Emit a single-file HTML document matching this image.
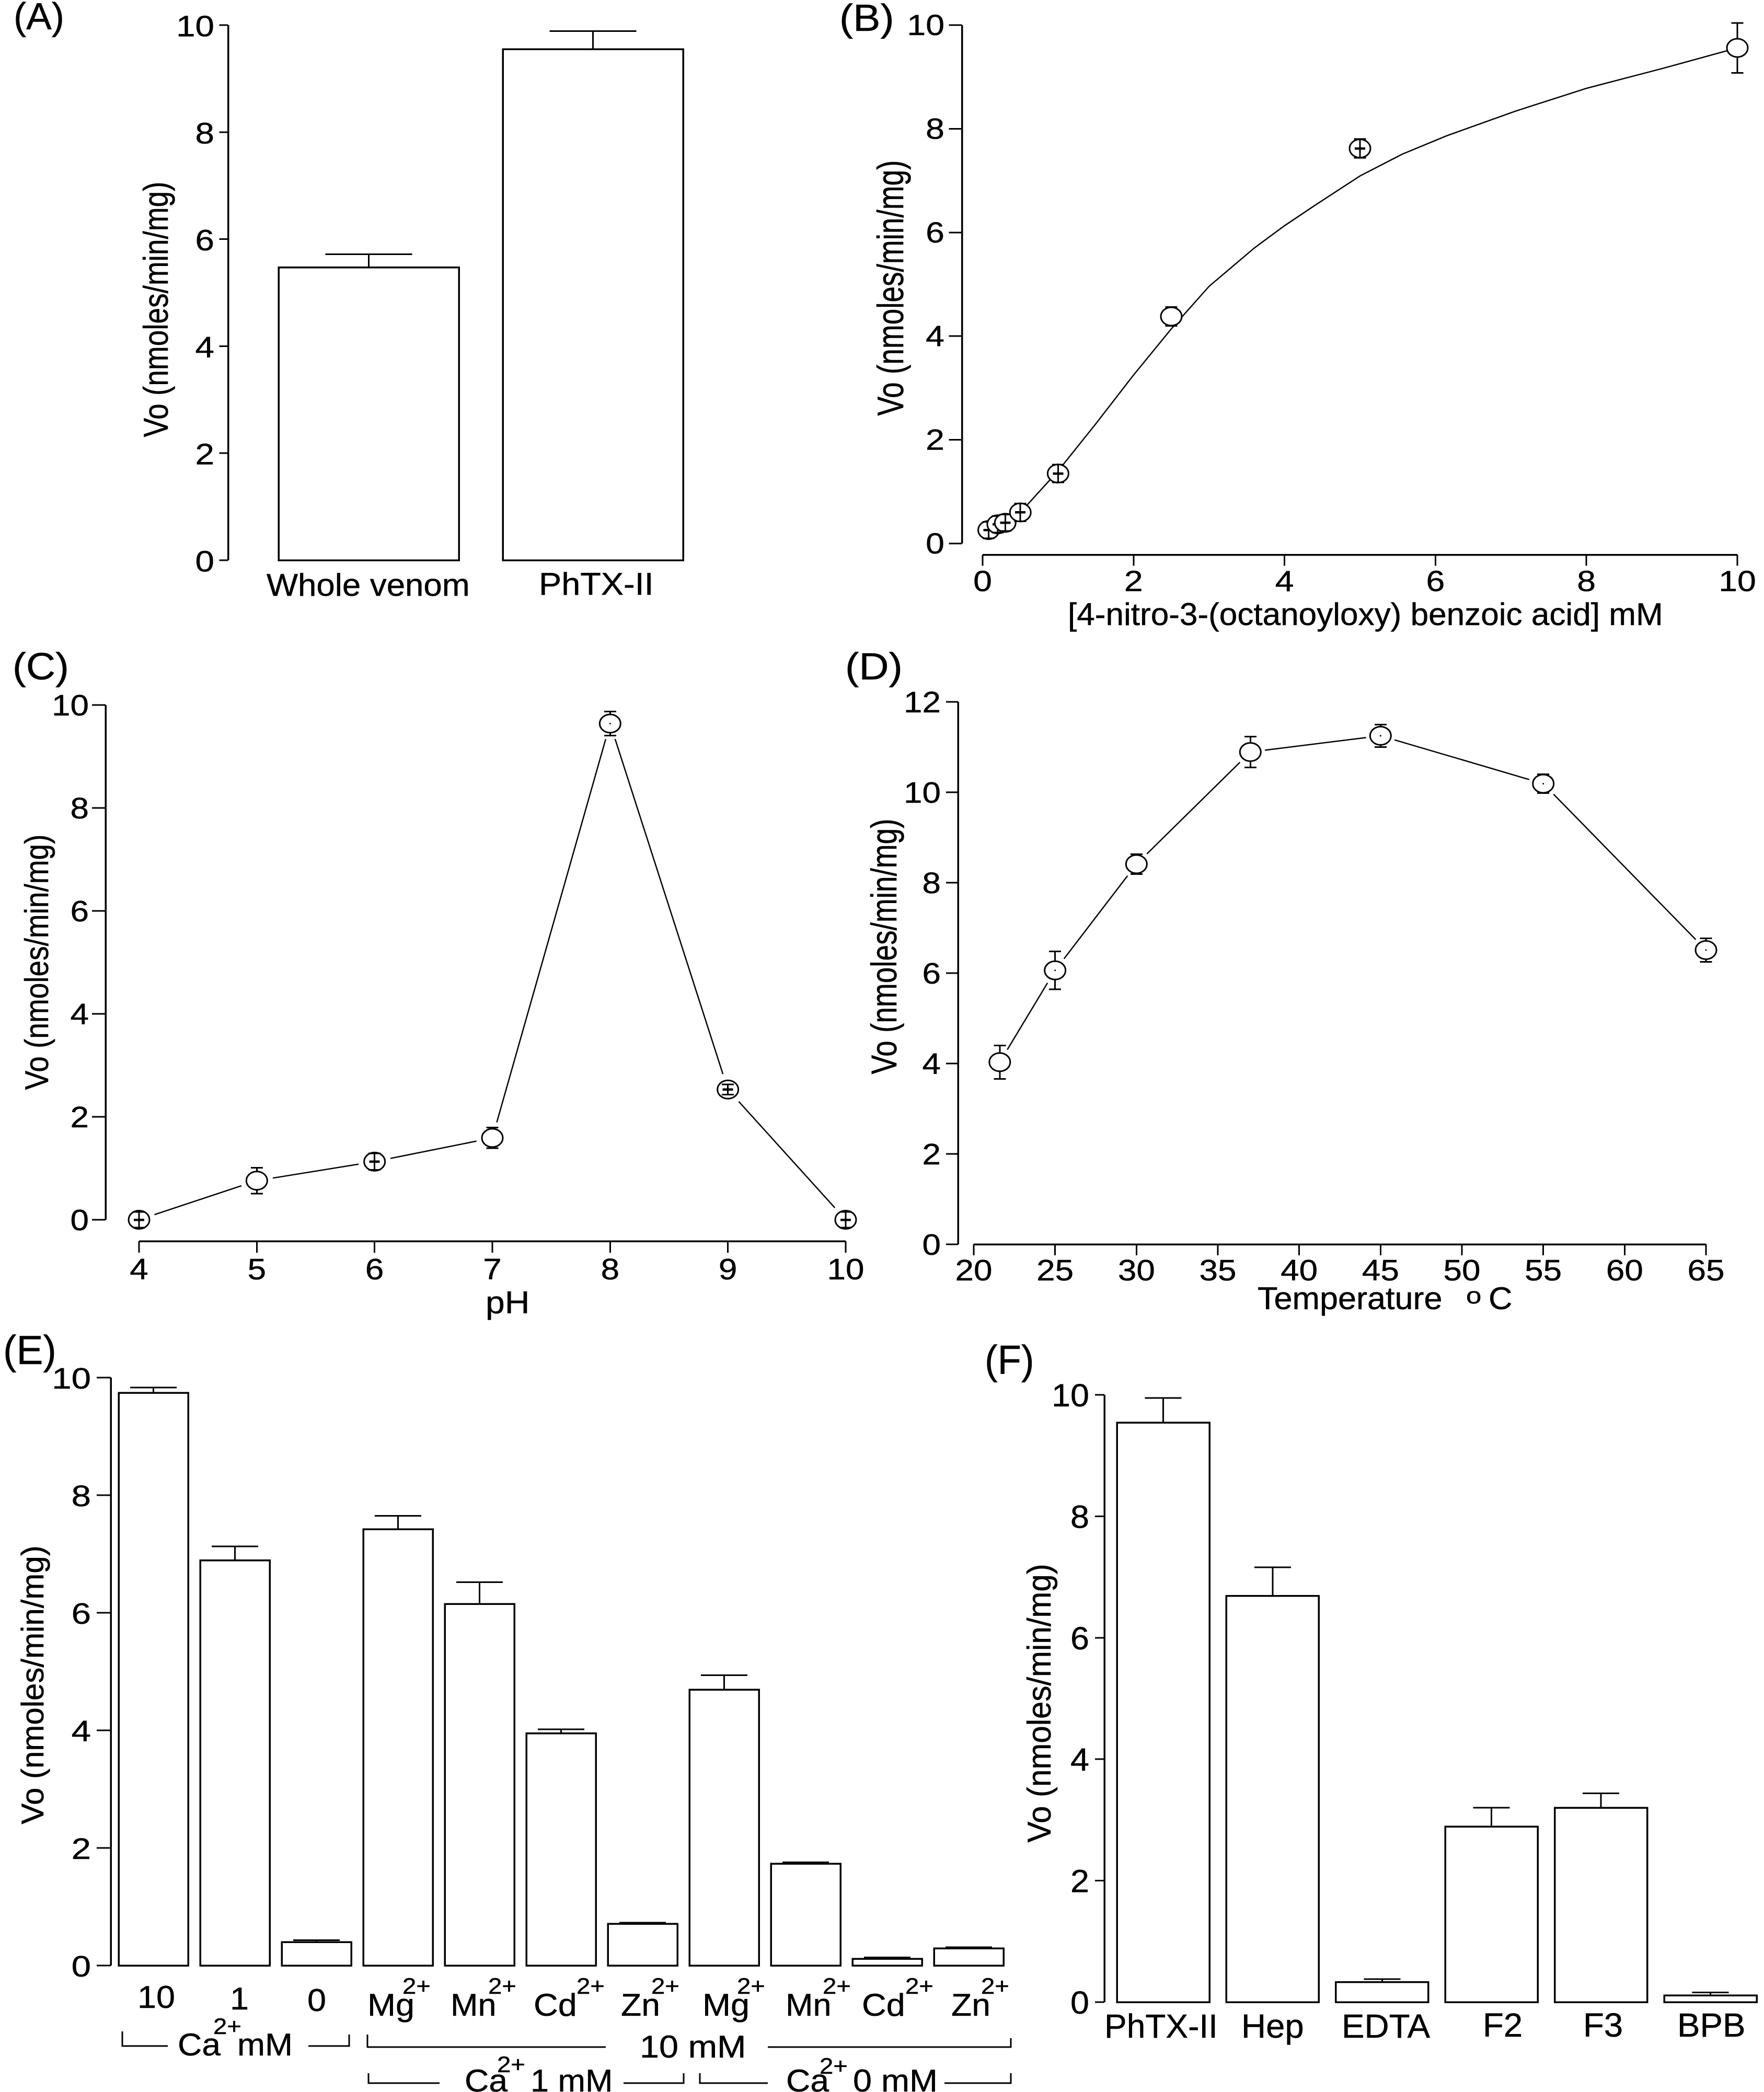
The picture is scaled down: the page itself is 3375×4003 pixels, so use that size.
<!DOCTYPE html>
<html lang="en">
<head>
<meta charset="utf-8">
<title>Enzyme activity panels A-F</title>
<style>
html,body{margin:0;padding:0;background:#fff;}
svg{display:block;}
text{font-family:"Liberation Sans",sans-serif;fill:#000;stroke:#000;stroke-width:0.5px;}
</style>
</head>
<body>
<svg id="figure" xmlns="http://www.w3.org/2000/svg" width="3375" height="4003" viewBox="0 0 3375 4003">
<rect x="0" y="0" width="3375" height="4003" fill="#fff"/>

<text font-size="72" transform="translate(26,56) scale(1.01,1)">(A)</text>
<text font-size="72" transform="translate(1606,59) scale(1.09,1)">(B)</text>
<text font-size="72" transform="translate(24,1300) scale(1.08,1)">(C)</text>
<text font-size="72" transform="translate(1617,1300) scale(1.1,1)">(D)</text>
<text font-size="78" transform="translate(6,2610) scale(0.98,1)">(E)</text>
<text font-size="78" transform="translate(1884,2629) scale(0.95,1)">(F)</text>

<text font-size="55" text-anchor="middle" transform="translate(321,592) rotate(-90) scale(1,1.2)">Vo (nmoles/min/mg)</text>
<text font-size="55" text-anchor="middle" transform="translate(1728,551) rotate(-90) scale(1,1.28)">Vo (nmoles/min/mg)</text>
<text font-size="55" text-anchor="middle" transform="translate(92,1841) rotate(-90) scale(1,1.15)">Vo (nmoles/min/mg)</text>
<text font-size="55" text-anchor="middle" transform="translate(1715,1811) rotate(-90) scale(1,1.25)">Vo (nmoles/min/mg)</text>
<text font-size="60" text-anchor="middle" transform="translate(83,3224) rotate(-90)">Vo (nmoles/min/mg)</text>
<text font-size="60" text-anchor="middle" transform="translate(2010,3259) rotate(-90) scale(1,1.05)">Vo (nmoles/min/mg)</text>

<text font-size="60" transform="translate(510,1140) scale(1.06,1)">Whole venom</text>
<text font-size="60" transform="translate(1031,1138) scale(1.08,1)">PhTX-II</text>

<text font-size="60" transform="translate(2043,1196) scale(1.035,1)">[4-nitro-3-(octanoyloxy) benzoic acid] mM</text>
<text font-size="60" transform="translate(929,2513) scale(1.1,1)">pH</text>
<g>
<text font-size="60" transform="translate(2406,2505) scale(1.05,1)">Temperature</text>
<text font-size="44" transform="translate(2805,2494) scale(1.2,1)">o</text>
<text font-size="60" transform="translate(2848,2505) scale(1.05,1)">C</text>
</g>

<g font-size="60">
<text transform="translate(263,3842) scale(1.08,1)">10</text>
<text transform="translate(440,3845) scale(1.08,1)">1</text>
<text transform="translate(588,3848) scale(1.08,1)">0</text>
<text transform="translate(703,3857) scale(1.08,1)">Mg</text>
<text font-size="43" transform="translate(770,3815) scale(1.1,1)">2+</text>
<text transform="translate(862,3857) scale(1.05,1)">Mn</text>
<text font-size="43" transform="translate(934,3815) scale(1.1,1)">2+</text>
<text transform="translate(1021,3857) scale(1.08,1)">Cd</text>
<text font-size="43" transform="translate(1103,3815) scale(1.1,1)">2+</text>
<text transform="translate(1188,3857) scale(1.07,1)">Zn</text>
<text font-size="43" transform="translate(1246,3815) scale(1.1,1)">2+</text>
<text transform="translate(1344,3857) scale(1.08,1)">Mg</text>
<text font-size="43" transform="translate(1410,3815) scale(1.1,1)">2+</text>
<text transform="translate(1503,3857) scale(1.05,1)">Mn</text>
<text font-size="43" transform="translate(1574,3815) scale(1.1,1)">2+</text>
<text transform="translate(1649,3857) scale(1.08,1)">Cd</text>
<text font-size="43" transform="translate(1732,3815) scale(1.1,1)">2+</text>
<text transform="translate(1820,3857) scale(1.07,1)">Zn</text>
<text font-size="43" transform="translate(1877,3815) scale(1.1,1)">2+</text>
</g>

<g font-size="60">
<path d="M234 3887V3915H321M590 3915H668V3893" fill="none" stroke="#000" stroke-width="3"/>
<text transform="translate(340,3933) scale(1.07,1)">Ca</text>
<text font-size="43" transform="translate(408,3892) scale(1.1,1)">2+</text>
<text transform="translate(454,3933) scale(1.06,1)">mM</text>
<path d="M703 3893V3917H1159M1469 3917H1934V3900" fill="none" stroke="#000" stroke-width="3"/>
<text transform="translate(1224,3937) scale(1.11,1)">10 mM</text>
<path d="M705 3967V3986H841M1193 3986H1308V3967" fill="none" stroke="#000" stroke-width="3"/>
<text transform="translate(889,4002) scale(1.07,1)">Ca</text>
<text font-size="43" transform="translate(951,3965) scale(1.1,1)">2+</text>
<text transform="translate(1015,4002) scale(1.05,1)">1 mM</text>
<path d="M1339 3967V3986H1469M1807 3986H1934V3967" fill="none" stroke="#000" stroke-width="3"/>
<text transform="translate(1504,4002) scale(1.07,1)">Ca</text>
<text font-size="43" transform="translate(1568,3968) scale(1.1,1)">2+</text>
<text transform="translate(1632,4002) scale(1.08,1)">0 mM</text>
</g>

<g font-size="64">
<text transform="translate(2113,3899)">PhTX-II</text>
<text transform="translate(2375,3899) scale(1.02,1)">Hep</text>
<text transform="translate(2567,3899) scale(1.02,1)">EDTA</text>
<text transform="translate(2837,3897) scale(1.02,1)">F2</text>
<text transform="translate(3029,3897) scale(1.02,1)">F3</text>
<text transform="translate(3209,3897) scale(1.02,1)">BPB</text>
</g>

<g id="marks"></g>
</svg>

<script>
// Panel A
const tickValuesA = [0, 2, 4, 6, 8, 10];
const meanA = [5.47, 9.55];
const semA = [0.25, 0.34];

// Panel B
const tickValuesBY = [0, 2, 4, 6, 8, 10];
const tickValuesBX = [0, 2, 4, 6, 8, 10];
const substrateB = [0.08, 0.2, 0.3, 0.5, 1, 2.5, 5, 10];
const rateB = [0.26, 0.37, 0.4, 0.6, 1.35, 4.38, 7.62, 9.56];
const semB = [0.16, 0.16, 0.16, 0.17, 0.17, 0.18, 0.18, 0.48];
const centerB = ['plus', 'plus', 'plus', 'plus', 'plus', 'none', 'plus', 'none'];
const curveXB = [0.1, 0.5, 1, 1.5, 2, 2.5, 3, 3.6, 4, 4.4, 5, 5.56, 6.14, 7.06, 8, 9, 10];
const curveYB = [0.27, 0.6, 1.4, 2.31, 3.25, 4.14, 4.96, 5.7, 6.13, 6.52, 7.09, 7.51, 7.86, 8.34, 8.78, 9.16, 9.56];

// Panel C
const tickValuesCY = [0, 2, 4, 6, 8, 10];
const tickValuesCX = [4, 5, 6, 7, 8, 9, 10];
const phC = [4, 5, 6, 7, 8, 9, 10];
const rateC = [0.0, 0.76, 1.13, 1.59, 9.64, 2.53, 0.0];
const semC = [0.15, 0.25, 0.16, 0.2, 0.235, 0.1, 0.15];
const centerC = ['plus', 'none', 'plus', 'none', 'dot', 'plus', 'plus'];

// Panel D
const tickValuesDY = [0, 2, 4, 6, 8, 10, 12];
const tickValuesDX = [20, 25, 30, 35, 40, 45, 50, 55, 60, 65];
const tempD = [21.6, 25, 30, 37, 45, 55, 65];
const rateD = [4.03, 6.06, 8.41, 10.89, 11.25, 10.19, 6.51];
const semD = [0.37, 0.42, 0.22, 0.34, 0.25, 0.21, 0.26];
const centerD = ['none', 'dot', 'none', 'none', 'dot', 'dot', 'dot'];

// Panel E
const tickValuesE = [0, 2, 4, 6, 8, 10];
const meanE = [9.74, 6.89, 0.4, 7.42, 6.15, 3.95, 0.71, 4.69, 1.73, 0.115, 0.29];
const semE = [0.09, 0.24, 0.03, 0.23, 0.37, 0.07, 0.02, 0.25, 0.025, 0.025, 0.023];

// Panel F
const tickValuesF = [0, 2, 4, 6, 8, 10];
const meanF = [9.54, 6.69, 0.33, 2.89, 3.2, 0.11];
const semF = [0.41, 0.47, 0.05, 0.31, 0.24, 0.05];

const SVG_NS = 'http://www.w3.org/2000/svg';
const marks = document.getElementById('marks');

function mk(parent, tag, attrs) {
  const el = document.createElementNS(SVG_NS, tag);
  for (const k in attrs) el.setAttribute(k, attrs[k]);
  parent.appendChild(el);
  return el;
}
function seg(parent, x1, y1, x2, y2, w, crisp) {
  const el = mk(parent, 'line', {x1: x1, y1: y1, x2: x2, y2: y2, stroke: '#000', 'stroke-width': w});
  if (crisp) el.style.shapeRendering = 'crispEdges';
  return el;
}
function label(parent, str, x, y, anchor, fs, sx) {
  const el = mk(parent, 'text', {'text-anchor': anchor, 'font-size': fs, transform: 'translate(' + x + ',' + y + ') scale(' + sx + ',1)'});
  el.textContent = str;
  return el;
}
function linear(d0, d1, r0, r1) {
  return function (v) { return r0 + (v - d0) * (r1 - r0) / (d1 - d0); };
}
function panelGroup(name) {
  const g = mk(marks, 'g', {});
  
  
  return g;
}

function yAxis(g, ticks, yScale, axisX, tickLen, labelX, fs, sx, dy) {
  const top = yScale(Math.max.apply(null, ticks));
  const bottom = yScale(Math.min.apply(null, ticks));
  const spine = seg(g, axisX, top, axisX, bottom, 3.5, true);
  
  
  ticks.forEach(function (t) {
    const y = yScale(t);
    const mark = seg(g, axisX - tickLen, y, axisX, y, 3, true);
    
    
    const text = label(g, String(t), labelX, y + dy, 'end', fs, sx);
    
    
  });
}

function xAxis(g, ticks, xScale, axisY, tickLen, labelY, fs, sx) {
  const spine = seg(g, xScale(ticks[0]), axisY, xScale(ticks[ticks.length - 1]), axisY, 3.5, true);
  
  
  ticks.forEach(function (t) {
    const x = xScale(t);
    const mark = seg(g, x, axisY, x, axisY + tickLen, 3, true);
    
    
    const text = label(g, String(t), x, labelY, 'middle', fs, sx);
    
    
  });
}

function bars(g, means, sems, xLeft, width, yScale, capWidth) {
  means.forEach(function (m, i) {
    const x = xLeft(i);
    const c = x + width / 2;
    const yTop = yScale(m);
    const yErr = yScale(m + sems[i]);
    const stem = seg(g, c, yErr, c, yTop, 3, true);
    
    
    const cap = seg(g, c - capWidth / 2, yErr, c + capWidth / 2, yErr, 3, true);
    
    
    const bar = mk(g, 'rect', {x: x, y: yTop, width: width, height: yScale(0) - yTop, fill: '#fff', stroke: '#000', 'stroke-width': 3.5});
    bar.style.shapeRendering = 'crispEdges';
    
    
  });
}

function connected(g, xs, ys, xScale, yScale, gap) {
  for (let i = 0; i < xs.length - 1; i++) {
    const ax = xScale(xs[i]), ay = yScale(ys[i]);
    const bx = xScale(xs[i + 1]), by = yScale(ys[i + 1]);
    const len = Math.hypot(bx - ax, by - ay);
    const ux = (bx - ax) / len, uy = (by - ay) / len;
    const line = seg(g, ax + ux * gap, ay + uy * gap, bx - ux * gap, by - uy * gap, 2.5);
    
    
  }
}

function points(g, xs, ys, sems, centers, xScale, yScale) {
  xs.forEach(function (v, i) {
    const cx = xScale(v), cy = yScale(ys[i]);
    const hi = yScale(ys[i] + sems[i]), lo = yScale(ys[i] - sems[i]);
    const stem = seg(g, cx, hi, cx, lo, 3, true);
    
    
    const dot = mk(g, 'ellipse', {cx: cx, cy: cy, rx: 20, ry: 17.5, fill: '#fff', stroke: '#000', 'stroke-width': 3});
    
    
    [hi, lo].forEach(function (cy2) {
      const cap = seg(g, cx - 11.5, cy2, cx + 11.5, cy2, 3, true);
      
      
    });
    if (centers[i] === 'plus') {
      const v1 = seg(g, cx, hi, cx, lo, 3, true);
      
      
      const h1 = seg(g, cx - 10, cy, cx + 10, cy, 4.5, true);
      
      
    } else if (centers[i] === 'dot') {
      const d1 = mk(g, 'circle', {cx: cx, cy: cy, r: 1.5, fill: '#000'});
      
      
    }
  });
}

/* Panel A */
const gA = panelGroup('panel-a-bar-chart');
const yA = linear(0, 10, 1072, 48);
bars(gA, meanA, semA, function (i) { return 533 + i * 429; }, 345, yA, 166);
yAxis(gA, tickValuesA, yA, 436.5, 17, 410, 57, 1.15, 21.5);

/* Panel B */
const gB = panelGroup('panel-b-substrate-curve');
const yB = linear(0, 10, 1040, 48);
const xB = linear(0, 10, 1880, 3324);
yAxis(gB, tickValuesBY, yB, 1840.5, 25, 1807, 56, 1.15, 19);
xAxis(gB, tickValuesBX, xB, 1061.5, 21, 1131, 56, 1.15);
const curvePath = mk(gB, 'polyline', {
  points: curveXB.map(function (v, i) { return xB(v) + ',' + yB(curveYB[i]); }).join(' '),
  fill: 'none', stroke: '#000', 'stroke-width': 2.5
});


points(gB, substrateB, rateB, semB, centerB, xB, yB);

/* Panel C */
const gC = panelGroup('panel-c-ph-profile');
const yC = linear(0, 10, 2334, 1349);
const xC = linear(4, 10, 266, 1618);
yAxis(gC, tickValuesCY, yC, 202, 26, 170, 57, 1.12, 20);
xAxis(gC, tickValuesCX, xC, 2375, 22, 2448, 57, 1.12);
connected(gC, phC, rateC, xC, yC, 31);
points(gC, phC, rateC, semC, centerC, xC, yC);

/* Panel D */
const gD = panelGroup('panel-d-temperature-profile');
const yD = linear(0, 12, 2381, 1343);
const xD = linear(20, 65, 1863, 3264);
yAxis(gD, tickValuesDY, yD, 1833, 23, 1800, 57, 1.12, 20);
xAxis(gD, tickValuesDX, xD, 2381, 21, 2450, 57, 1.12);
connected(gD, tempD, rateD, xD, yD, 28);
points(gD, tempD, rateD, semD, centerD, xD, yD);

/* Panel E */
const gE = panelGroup('panel-e-bar-chart');
const yE = linear(0, 10, 3761, 2636);
bars(gE, meanE, semE, function (i) { return 227 + i * 156; }, 133, yE, 89);
yAxis(gE, tickValuesE, yE, 212, 27, 174, 57, 1.18, 21);

/* Panel F */
const gF = panelGroup('panel-f-bar-chart');
const yF = linear(0, 10, 3831, 2669);
bars(gF, meanF, semF, function (i) { return 2137 + i * 209.4; }, 177, yF, 70);
yAxis(gF, tickValuesF, yF, 2113, 18, 2084, 61, 1.06, 22);
</script>
</body>
</html>
